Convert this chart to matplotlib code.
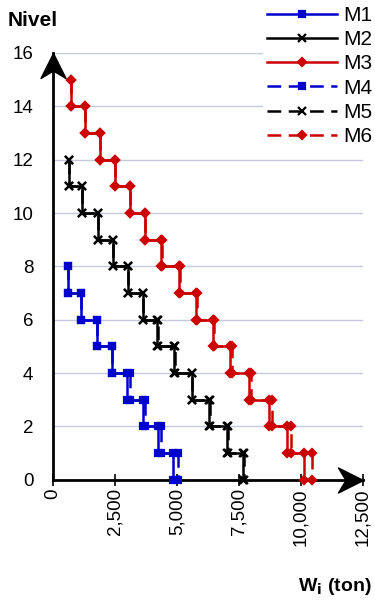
import numpy as np
import matplotlib
matplotlib.use("Agg")
import matplotlib.pyplot as plt
from matplotlib.path import Path
from matplotlib.ticker import FuncFormatter

plt.rcParams["font.family"] = ["Liberation Sans", "DejaVu Sans"]

# story shear per level, listed from the top story down to level 1
m1 = [593, 1129, 1762, 2367, 3000, 3617, 4246, 4830]
m4 = [593, 1135, 1775, 2395, 3090, 3710, 4355, 5040]
m2 = [657, 1183, 1801, 2406, 3011, 3616, 4207, 4879, 5591, 6304, 7003, 7673]
m5 = [657, 1188, 1808, 2416, 3025, 3635, 4230, 4905, 5620, 6340, 7040, 7715]
m3 = [726, 1290, 1895, 2500, 3105, 3710, 4370, 5080, 5780, 6440, 7137, 7903,
      8722, 9423, 10121]
m6 = [726, 1290, 1895, 2500, 3110, 3720, 4390, 5110, 5820, 6500, 7210, 8000,
      8819, 9597, 10431]

x_ticks = [0, 2500, 5000, 7500, 10000, 12500]
y_ticks = [0, 2, 4, 6, 8, 10, 12, 14, 16]


def steps(vals):
    n = len(vals)
    xs, ys = [], []
    for i, v in enumerate(vals):
        lvl = n - i
        xs += [v, v]
        ys += [lvl, lvl - 1]
    return xs, ys


blue = "#0000CC"
red = "#CC0000"
black = "#000000"

fig = plt.figure(figsize=(3.75, 6.02), dpi=100)
ax = fig.add_axes([0.141, 0.203, 0.827, 0.709])

dash = (0, (5.5, 3))
series = [
    ("M1", m1, blue, "s", 4.5, "-"),
    ("M2", m2, black, "x", 6.0, "-"),
    ("M3", m3, red, "D", 4.3, "-"),
    ("M4", m4, blue, "s", 4.5, dash),
    ("M5", m5, black, "x", 6.0, dash),
    ("M6", m6, red, "D", 4.3, dash),
]
for name, vals, c, mk, ms, ls in series:
    xs, ys = steps(vals)
    ax.plot(xs, ys, color=c, marker=mk, ms=ms, mew=1.6, lw=1.8, ls=ls,
            label=name, clip_on=False, zorder=3)

ax.set_xlim(0, 12500)
ax.set_ylim(0, 16)
ax.set_xticks(x_ticks)
ax.set_yticks(y_ticks)
ax.xaxis.set_major_formatter(FuncFormatter(lambda v, p: f"{int(v):,}"))
ax.tick_params(axis="x", rotation=90, direction="inout", length=8, width=1.2,
               labelsize=13.5, pad=2)
ax.tick_params(axis="y", direction="inout", length=0, labelsize=13.5, pad=14)
ax.grid(axis="y", color="#c4cbdb", lw=1)
ax.set_axisbelow(True)
for s in ["top", "right"]:
    ax.spines[s].set_visible(False)
for s in ["left", "bottom"]:
    ax.spines[s].set_linewidth(2)

# arrow heads at the axis ends
head = Path([(0, 0), (-0.5, -1), (0, -0.7), (0.5, -1), (0, 0)],
            [Path.MOVETO, Path.LINETO, Path.LINETO, Path.LINETO, Path.CLOSEPOLY])
head_r = Path([(0, 0), (-1, 0.5), (-0.7, 0), (-1, -0.5), (0, 0)],
              [Path.MOVETO, Path.LINETO, Path.LINETO, Path.LINETO, Path.CLOSEPOLY])
ax.plot([0], [1], transform=ax.transAxes, marker=head, ms=36, color="black",
        clip_on=False, zorder=5)
ax.plot([1], [0], transform=ax.transAxes, marker=head_r, ms=36, color="black",
        clip_on=False, zorder=5)

leg = ax.legend(loc="upper left", bbox_to_anchor=(0.7008, 0.997),
                bbox_transform=fig.transFigure, fontsize=15,
                handlelength=3.36, labelspacing=0.25, handletextpad=0.29,
                borderpad=0.2, borderaxespad=0, frameon=True, fancybox=False)
leg.get_frame().set_edgecolor("none")
leg.get_frame().set_facecolor("white")
leg.get_frame().set_alpha(1)

fig.text(0.021, 0.982, "Nivel", fontsize=15, fontweight="bold", va="top")
fig.text(0.992, 0.008, r"W$_\mathbf{i}$ (ton)", fontsize=14, fontweight="bold",
         ha="right", va="bottom")

fig.savefig("out.png", dpi=100)
